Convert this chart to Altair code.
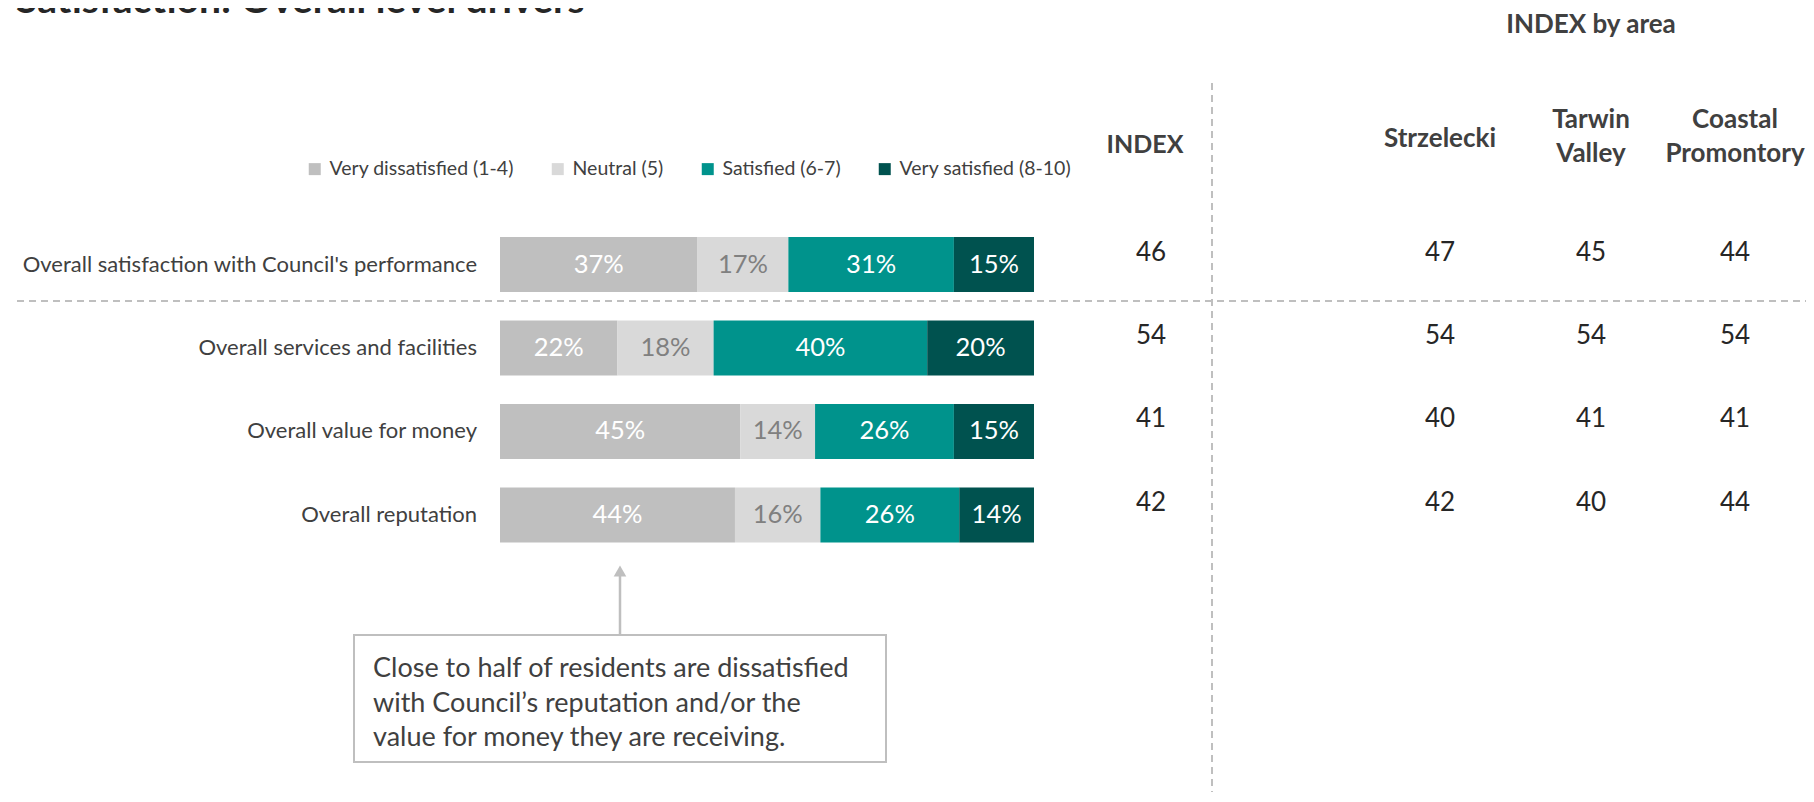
import altair as alt
import pandas as pd

# ---------------- data ----------------
rows = [
    "Overall satisfaction with Council's performance",
    "Overall services and facilities",
    "Overall value for money",
    "Overall reputation",
]
cats = ["Very dissatisfied (1-4)", "Neutral (5)", "Satisfied (6-7)", "Very satisfied (8-10)"]
very_dissatisfied = [37, 22, 45, 44]
neutral = [17, 18, 14, 16]
satisfied = [31, 40, 26, 26]
very_satisfied = [15, 20, 15, 14]

index_values = [46, 54, 41, 42]
areas = ["Strzelecki", "Tarwin\nValley", "Coastal\nPromontory"]
strzelecki = [47, 54, 40, 42]
tarwin_valley = [45, 54, 41, 40]
coastal_promontory = [44, 54, 41, 44]

title_text = "Satisfaction: Overall level drivers"
index_header = "INDEX"
area_header = "INDEX by area"
note_lines = [
    "Close to half of residents are dissatisfied",
    "with Council\u2019s reputation and/or the",
    "value for money they are receiving.",
]

colors = ["#BFBFBF", "#D9D9D9", "#00938C", "#00524F"]
FONT = "Lato"
TXT = "#404040"

# ---------------- tables ----------------
series = [very_dissatisfied, neutral, satisfied, very_satisfied]
long = []
for ci, (c, vals) in enumerate(zip(cats, series)):
    for r, v in zip(rows, vals):
        long.append({"row": r, "cat": c, "value": v, "order": ci})
df = pd.DataFrame(long)

idx_df = pd.DataFrame({
    "row": rows,
    "index": index_values,
    "a0": strzelecki,
    "a1": tarwin_valley,
    "a2": coastal_promontory,
})
one = pd.DataFrame({"k": [0]})

xscale = alt.Scale(domain=[0, 100], range=[492, 1026], nice=False, zero=False)
yscale = alt.Scale(domain=rows, range=[214.75, 548.75], paddingInner=0.341, paddingOuter=0.1707)
Y = alt.Y("row:N", scale=yscale, axis=None, sort=rows)

base = alt.Chart(df).transform_stack(
    stack="value", groupby=["row"], sort=[alt.SortField("order", order="ascending")], as_=["x0", "x1"]
)

bars = base.mark_bar().encode(
    x=alt.X("x0:Q", scale=xscale, axis=None),
    x2="x1:Q",
    y=Y,
    color=alt.Color(
        "cat:N",
        scale=alt.Scale(domain=cats, range=colors),
        legend=alt.Legend(
            orient="none", legendX=297, legendY=151, direction="horizontal", title=None,
            symbolType="square", symbolSize=144, symbolStrokeWidth=0,
            labelFontSize=19.5, labelFont=FONT, labelColor=TXT, labelOffset=5,
            columnPadding=34, labelLimit=400,
        ),
    ),
    order=alt.Order("order:Q"),
)

pct = base.transform_calculate(
    mid="(datum.x0 + datum.x1) / 2", lbl="datum.value + '%'"
).mark_text(fontSize=25.5, font=FONT, baseline="middle", align="center").encode(
    x=alt.X("mid:Q", scale=xscale, axis=None),
    y=Y,
    text="lbl:N",
    color=alt.condition(alt.datum.cat == "Neutral (5)", alt.value("#808080"), alt.value("white")),
)

row_labels = alt.Chart(idx_df).mark_text(
    align="right", baseline="middle", fontSize=22, font=FONT, color=TXT
).encode(x=alt.value(469), y=Y, text="row:N")

def val_layer(field, xpx):
    return alt.Chart(idx_df).mark_text(
        align="center", baseline="middle", fontSize=26, font=FONT, color="#262626", dy=-12
    ).encode(x=alt.value(xpx), y=Y, text=f"{field}:Q")

index_col = val_layer("index", 1143)
area_cols = [val_layer(f"a{i}", xp) for i, xp in enumerate([1432, 1583, 1727])]

def header(txt, xpx, ypx, size=26):
    return alt.Chart(pd.DataFrame({"t": [txt]})).mark_text(
        align="center", baseline="middle", fontSize=size, font=FONT, fontWeight="bold",
        color=TXT, lineBreak="\n", lineHeight=34,
    ).encode(x=alt.value(xpx), y=alt.value(ypx), text="t:N")

headers = [
    header(index_header, 1137, 137, 25),
    header(area_header, 1583, 17),
    header(areas[0], 1432, 131),
    header(areas[1], 1583, 112),
    header(areas[2], 1727, 112),
]

title = alt.Chart(pd.DataFrame({"t": [title_text]})).mark_text(
    align="left", baseline="alphabetic", fontSize=39, font=FONT, fontWeight="bold", color="#262626"
).encode(x=alt.value(8), y=alt.value(5), text="t:N")

hline = alt.Chart(one).mark_rule(color="#BFBFBF", strokeWidth=2, strokeDash=[7, 5]).encode(
    x=alt.value(9), x2=alt.value(1798), y=alt.value(293)
)
vline = alt.Chart(one).mark_rule(color="#BFBFBF", strokeWidth=2, strokeDash=[7, 5]).encode(
    x=alt.value(1204), y=alt.value(75), y2=alt.value(790)
)

box = alt.Chart(one).mark_rect(fill="white", stroke="#BFBFBF", strokeWidth=2).encode(
    x=alt.value(346), x2=alt.value(878), y=alt.value(627), y2=alt.value(754)
)
arrow_line = alt.Chart(one).mark_rule(color="#BFBFBF", strokeWidth=2.5).encode(
    x=alt.value(612), y=alt.value(566), y2=alt.value(627)
)
arrow_head = alt.Chart(one).mark_point(
    shape="triangle-up", filled=True, color="#BFBFBF", size=160, opacity=1
).encode(x=alt.value(612), y=alt.value(563))

note = alt.Chart(pd.DataFrame({"t": ["\n".join(note_lines)]})).mark_text(
    align="left", baseline="middle", fontSize=27, font=FONT, color=TXT, lineBreak="\n", lineHeight=34.5
).encode(x=alt.value(365), y=alt.value(661), text="t:N")

chart = alt.layer(
    hline, vline, bars, pct, row_labels, index_col, *area_cols, *headers, title,
    arrow_line, arrow_head, box, note,
).properties(
    width=1798, height=784, padding=0, autosize=alt.AutoSizeParams(type="none")
).configure(font=FONT).configure_view(stroke=None)

chart.save("out.html", embed_options={"renderer": "svg", "actions": False})
